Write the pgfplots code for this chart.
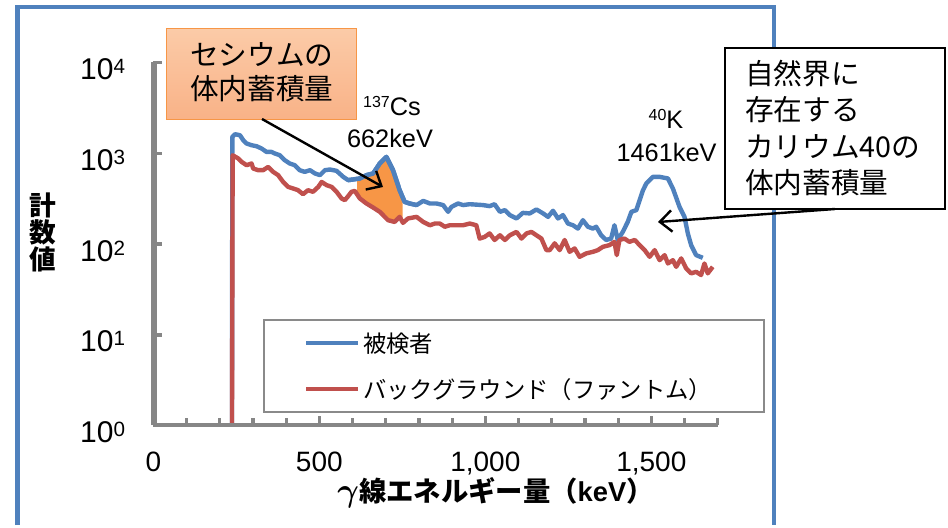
\documentclass[border=0pt]{standalone}
\usepackage{fontspec}
\setmainfont{Liberation Sans}
\newfontfamily\jp{Noto Sans CJK JP}
\usepackage{pgfplots}
\pgfplotsset{compat=1.18}
\usetikzlibrary{arrows.meta}

\definecolor{subj}{HTML}{4F81BD}
\definecolor{bkg}{HTML}{C0504D}
\definecolor{csfill}{HTML}{F79646}
\definecolor{axgray}{HTML}{868686}
\definecolor{leggray}{HTML}{8A8A8A}
\definecolor{boxtop}{HTML}{FBCBA8}
\definecolor{boxbot}{HTML}{F9B287}

% superscript for tick labels and nuclide names
\newcommand\sps[3]{\raisebox{#2}{\fontsize{#1}{#1}\selectfont #3}}
\newcommand\tl[1]{10\sps{15.5}{4.5pt}{#1}}

\begin{document}
\begin{tikzpicture}
\path (0pt,0pt) rectangle (711pt,-393.75pt);

% outer frame (1px = 0.75pt, y downwards)
\begin{scope}[x=0.75pt,y=-0.75pt]
\draw[subj, line width=3.4pt] (17.5,525) -- (17.5,7) -- (774,7) -- (774,525);
\end{scope}

\begin{axis}[
    at={(114.975pt,-318.75pt)}, anchor=south west,
    scale only axis,
    width=423.3pt, height=271.9pt,
    xmin=0, xmax=1700,
    ymode=log, ymin=1, ymax=10000,
    axis x line*=bottom, axis y line*=left,
    axis line style={-, draw=axgray, line width=3pt},
    tick align=inside,
    tick style={axgray, line width=2.4pt},
    major tick length=6pt, minor tick length=4.5pt,
    xtick={0,500,1000,1500},
    minor xtick={100,200,...,1700},
    xticklabels={0,500,{1,000},{1,500}},
    ytick={1,10,100,1000,10000},
    yminorticks=false,
    yticklabels={\tl{0},\tl{1},\tl{2},\tl{3},\tl{4}},
    every tick label/.append style={inner sep=0pt},
    xticklabel style={font=\fontsize{21}{21}\selectfont, anchor=base, yshift=-35pt},
    yticklabel style={font=\fontsize{22.5}{22.5}\selectfont, anchor=base east, xshift=-21pt, yshift=-13pt},
    legend style={at={(axis description cs:0.1944,0.2924)}, anchor=north west,
        draw=leggray, line width=1.5pt, fill=white,
        inner xsep=0pt, inner ysep=0pt, row sep=0pt, column sep=0pt,
        nodes={inner sep=0pt, text depth=0pt},
        font=\jp\fontsize{17.5}{20}\selectfont},
    legend image code/.code={
        \path[draw=none, fill=none] (0pt,-17.25pt) rectangle (74.25pt,17.25pt);
        \draw[#1] (31.5pt,0pt) -- (70.5pt,0pt);},
]

% Cs-137 peak area: between the subject and background spectra, 614-751 keV
\addplot[fill=csfill, draw=none, forget plot] coordinates {
 (614,520) (622,525) (642,571) (662,596) (682,768) (702,908) (722,648) (742,390) (751,325)
 (751,173) (742,198) (727,174) (707,182) (682,225) (662,251) (642,278) (622,316) (614,350)
 (614,520)
};

% subject (measured person)
\addplot[subj, line width=3.3pt, line join=round] coordinates {
 (237,1) (238,1510) (246,1616) (261,1574) (271,1387) (281,1276) (296,1222)
 (311,1191) (326,1124) (341,1031) (356,1031) (366,990) (381,948) (396,835)
 (411,768) (426,736) (441,648) (456,621) (472,648) (487,596) (502,571)
 (517,648) (532,659) (552,637) (572,547) (587,503) (602,512) (622,525)
 (642,571) (662,596) (682,768) (702,908) (722,648) (742,390) (757,290)
 (772,278) (793,267) (813,297) (833,278) (853,278) (873,267) (888,225)
 (898,255) (918,278) (933,267) (953,273) (973,270) (993,267) (1013,260)
 (1028,273) (1044,225) (1059,235) (1074,207) (1094,190) (1113,219) (1134,216)
 (1154,239) (1174,216) (1189,198) (1204,231) (1219,190) (1234,207) (1249,167)
 (1264,160) (1279,147) (1294,182) (1309,154) (1324,147) (1334,154) (1349,124)
 (1364,110) (1379,114) (1389,160) (1399,110) (1414,135) (1429,174) (1440,225)
 (1455,235) (1465,303) (1475,390) (1485,462) (1505,547) (1525,547) (1550,525)
 (1565,407) (1585,255) (1600,198) (1610,130) (1620,96.5) (1635,74.9) (1655,69.9)
};
\addlegendentry{\makebox[300.75pt][l]{被検者}}

% background (phantom)
\addplot[bkg, line width=3.3pt, line join=round] coordinates {
 (237,1) (239,948) (256,872) (266,800) (281,736) (296,768) (301,676)
 (316,648) (331,648) (346,705) (361,621) (376,571) (391,481) (406,424)
 (421,407) (436,390) (451,352) (466,390) (481,374) (497,424) (507,481)
 (522,443) (537,424) (552,374) (567,316) (577,303) (587,335) (597,374)
 (607,383) (622,316) (642,278) (662,251) (682,225) (707,182) (727,174)
 (742,198) (752,170) (767,190) (793,198) (813,174) (833,160) (848,167)
 (863,167) (878,154) (893,160) (913,160) (933,160) (953,167) (973,160)
 (983,114) (998,119) (1013,130) (1028,110) (1044,124) (1059,110) (1074,124)
 (1094,135) (1109,114) (1124,130) (1139,135) (1154,124) (1169,114) (1184,85)
 (1194,85) (1209,101) (1224,85) (1239,110) (1254,81.4) (1269,88.8) (1284,71.7)
 (1304,78.2) (1324,81.4) (1339,85) (1354,92.4) (1374,96.5) (1389,105) (1396,74.9)
 (1404,110) (1419,114) (1434,105) (1450,110) (1465,96.5) (1480,85) (1495,71.7)
 (1510,85) (1525,65.9) (1540,74.9) (1550,60.6) (1565,65.9) (1575,55.6) (1590,68.9)
 (1605,53.4) (1620,47.1) (1635,49.0) (1650,45.1) (1660,60.6) (1670,47.1) (1685,55.6)
};
\addlegendentry{\makebox[300.75pt][l]{バックグラウンド（ファントム）}}

% blue line over the filled peak
\addplot[subj, line width=3.3pt, line join=round, forget plot] coordinates {
 (587,503) (602,512) (622,525) (642,571) (662,596) (682,768) (702,908)
 (722,648) (742,390) (757,290) (772,278) (793,267)
};
\end{axis}

\begin{scope}[x=0.75pt,y=-0.75pt]
% heavier gray axis lines and ticks, as in the original chart
\draw[axgray, line width=3pt, line join=miter] (154.5,62.3) -- (154.5,425) -- (717.7,425);
\foreach \py in {62.3,153.3,244,335}
  \draw[axgray, line width=2.4pt] (154.5,\py) -- (162,\py);
\foreach \k in {1,...,17}
  \draw[axgray, line width=2.4pt] ({153.3+33.2*\k},425) -- ({153.3+33.2*\k},418);
\foreach \k in {5,10,15}
  \draw[axgray, line width=2.4pt] ({153.3+33.2*\k},425) -- ({153.3+33.2*\k},416);

% axis titles
\node[font=\jp\bfseries\fontsize{20}{20.25}\selectfont, align=center] at (42.5,232) {計\\数\\値};
\node[font=\fontsize{20.5}{21}\selectfont] at (495.5,493)
  {{\fontsize{24}{24}\selectfont\boldmath$\gamma$}{\jp\bfseries 線エネルギー量（}{\bfseries keV}{\jp\bfseries ）}};

% caesium callout
\draw[csfill, line width=1pt, top color=boxtop, bottom color=boxbot] (166.7,28.3) rectangle (356.7,119.3);
\node[font=\jp\fontsize{21.5}{25.5}\selectfont, align=center] at (261.7,72) {セシウムの\\体内蓄積量};
\draw[black, line width=1.8pt, -{Straight Barb[length=9pt,width=16pt,line width=1.8pt]}] (262,119) -- (383,187);

% nuclide labels
\node[font=\fontsize{19}{19}\selectfont, anchor=base, inner sep=0pt] at (392,116) {\sps{12}{6.5pt}{137}Cs};
\node[font=\fontsize{19}{19}\selectfont, anchor=base, inner sep=0pt] at (390,148) {662keV};
\node[font=\fontsize{19}{19}\selectfont, anchor=base, inner sep=0pt] at (666,129) {\sps{12}{6.5pt}{40}K};
\node[font=\fontsize{19}{19}\selectfont, anchor=base, inner sep=0pt] at (666.5,162) {1461keV};

% potassium callout
\draw[black, line width=1.4pt, fill=white] (725,48) rectangle (945,209);
\node[font=\jp\fontsize{21.5}{27.2}\selectfont, align=left, anchor=west, inner sep=0pt] at (745,128)
  {自然界に\\存在する\\カリウム40の\\体内蓄積量};
\draw[black, line width=1.8pt, -{Straight Barb[length=9pt,width=16pt,line width=1.8pt]}] (835,209) -- (658,222);
\end{scope}
\end{tikzpicture}
\end{document}
